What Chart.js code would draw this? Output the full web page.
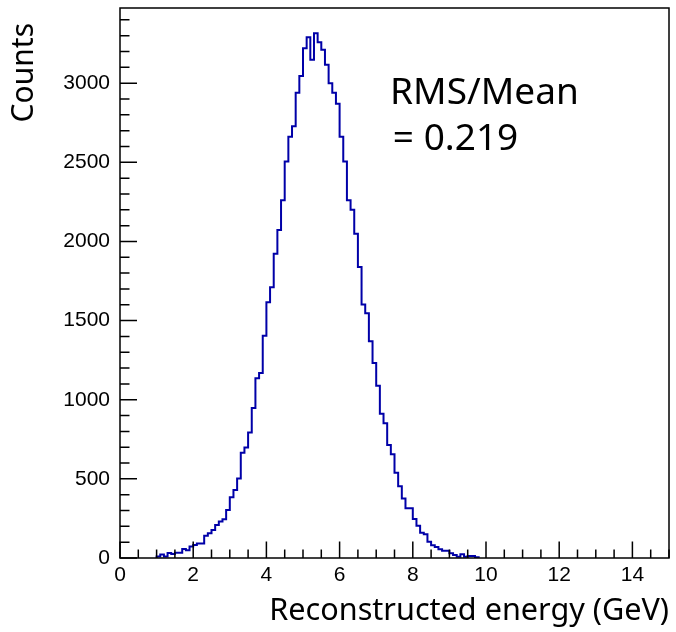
<!DOCTYPE html>
<html>
<head>
<meta charset="utf-8">
<script src="https://cdn.jsdelivr.net/npm/chart.js@4.4.0/dist/chart.umd.min.js"></script>
<style>
html, body { margin: 0; padding: 0; background: #ffffff; }
#wrap { width: 676px; height: 632px; position: relative; }
</style>
</head>
<body>
<div id="wrap"><canvas id="c" width="676" height="632"></canvas></div>
<script>
// ---- data (bin width 0.1 GeV) ----
const binLowEdges = [
  1.0, 1.1, 1.2, 1.3, 1.4, 1.5, 1.6, 1.7, 1.8, 1.9,
  2.0, 2.1, 2.2, 2.3, 2.4, 2.5, 2.6, 2.7, 2.8, 2.9,
  3.0, 3.1, 3.2, 3.3, 3.4, 3.5, 3.6, 3.7, 3.8, 3.9,
  4.0, 4.1, 4.2, 4.3, 4.4, 4.5, 4.6, 4.7, 4.8, 4.9,
  5.0, 5.1, 5.2, 5.3, 5.4, 5.5, 5.6, 5.7, 5.8, 5.9,
  6.0, 6.1, 6.2, 6.3, 6.4, 6.5, 6.6, 6.7, 6.8, 6.9,
  7.0, 7.1, 7.2, 7.3, 7.4, 7.5, 7.6, 7.7, 7.8, 7.9,
  8.0, 8.1, 8.2, 8.3, 8.4, 8.5, 8.6, 8.7, 8.8, 8.9,
  9.0, 9.1, 9.2, 9.3, 9.4, 9.5, 9.6, 9.7
];
const binWidth = 0.1;
const counts = [
  10, 22, 10, 32, 26, 33, 33, 57, 49, 72,
  82, 92, 92, 140, 156, 177, 209, 230, 245, 304,
  384, 430, 502, 665, 698, 793, 948, 1135, 1169, 1405,
  1616, 1711, 1922, 2072, 2260, 2505, 2661, 2728, 2939, 3045,
  3220, 3290, 3148, 3315, 3258, 3211, 3116, 3000, 2939, 2870,
  2661, 2505, 2260, 2201, 2049, 1838, 1601, 1547, 1369, 1232,
  1089, 912, 852, 714, 655, 538, 453, 376, 315, 315,
  247, 203, 160, 150, 103, 80, 70, 55, 46, 46,
  30, 19, 8, 23, 8, 13, 13, 5
];
const xTickLabels = [0, 2, 4, 6, 8, 10, 12, 14];
const yTickLabels = [0, 500, 1000, 1500, 2000, 2500, 3000];
const xRange = [0, 15];
const yRange = [0, 3475];
const xTitle = 'Reconstructed energy (GeV)';
const yTitle = 'Counts';
const annotationLines = ['RMS/Mean', '= 0.219'];

// ---- build step points (ROOT-style histogram outline) ----
const points = [{ x: binLowEdges[0], y: 0 }];
binLowEdges.forEach((e, i) => points.push({ x: e, y: counts[i] }));
points.push({ x: binLowEdges[binLowEdges.length - 1] + binWidth, y: 0 });

const frameTicks = {
  id: 'frameTicks',
  afterDatasetsDraw(chart) {
    const { ctx, chartArea: a, scales: { x, y } } = chart;
    ctx.save();
    ctx.strokeStyle = '#000';
    ctx.lineWidth = 1.5;
    ctx.beginPath();
    for (let v = xRange[0]; v <= xRange[1] + 1e-9; v += 0.5) {
      const px = x.getPixelForValue(v);
      const major = xTickLabels.includes(Math.round(v * 10) / 10);
      const len = major ? 16.5 : 8.5;
      ctx.moveTo(px, a.bottom);
      ctx.lineTo(px, a.bottom - len);
    }
    for (let v = yRange[0]; v <= yRange[1]; v += 100) {
      const py = y.getPixelForValue(v);
      const major = yTickLabels.includes(v);
      const len = major ? 17 : 9.5;
      ctx.moveTo(a.left, py);
      ctx.lineTo(a.left + len, py);
    }
    ctx.stroke();
    ctx.strokeRect(a.left, a.top, a.right - a.left, a.bottom - a.top);
    ctx.restore();
  },
  afterDraw(chart) {
    const { ctx, chartArea: a } = chart;
    const w = a.right - a.left, h = a.bottom - a.top;
    ctx.save();
    ctx.fillStyle = '#000';
    // y axis title, right-aligned toward the top like ROOT
    ctx.save();
    ctx.font = '30px "Noto Sans"';
    ctx.textAlign = 'right';
    ctx.textBaseline = 'alphabetic';
    ctx.translate(a.left - 87, a.top + 15);
    ctx.rotate(-Math.PI / 2);
    ctx.fillText(yTitle, 0, 0);
    ctx.restore();
    // annotation
    ctx.font = '37px "Noto Sans"';
    ctx.textAlign = 'left';
    ctx.textBaseline = 'alphabetic';
    ctx.fillText(annotationLines[0], a.left + 0.492 * w, a.top + 0.175 * h);
    ctx.fillText(annotationLines[1], a.left + 0.497 * w, a.top + 0.258 * h);
    ctx.restore();
  }
};

new Chart(document.getElementById('c'), {
  type: 'line',
  data: {
    datasets: [{
      label: 'Counts',
      data: points,
      stepped: 'before',
      borderColor: '#0000a8',
      borderWidth: 2,
      pointRadius: 0,
      fill: false,
      tension: 0
    }]
  },
  options: {
    responsive: false,
    animation: false,
    devicePixelRatio: 1,
    layout: { padding: { left: 0, right: 7, top: 8, bottom: 0 } },
    plugins: { legend: { display: false }, tooltip: { enabled: false } },
    scales: {
      x: {
        type: 'linear',
        min: xRange[0], max: xRange[1],
        grid: { display: false, drawTicks: false },
        border: { display: false },
        afterBuildTicks: s => { s.ticks = xTickLabels.map(v => ({ value: v })); },
        afterFit: s => { s.height = 74; s.paddingLeft = 0; s.paddingRight = 0; },
        ticks: {
          padding: 5,
          maxRotation: 0,
          autoSkip: false,
          color: '#000',
          font: { family: '"Liberation Sans", Arial, sans-serif', size: 21 },
          callback: v => String(v)
        },
        title: {
          display: true,
          text: xTitle,
          align: 'end',
          color: '#000',
          font: { family: '"Noto Sans", sans-serif', size: 30.6 },
          padding: { top: 0, bottom: 2 }
        }
      },
      y: {
        type: 'linear',
        min: yRange[0], max: yRange[1],
        grid: { display: false, drawTicks: false },
        border: { display: false },
        afterBuildTicks: s => { s.ticks = yTickLabels.map(v => ({ value: v })); },
        afterFit: s => { s.width = 120; s.paddingTop = 0; s.paddingBottom = 0; },
        ticks: {
          padding: 10,
          autoSkip: false,
          color: '#000',
          font: { family: '"Liberation Sans", Arial, sans-serif', size: 21 },
          callback: v => String(v)
        },
        title: { display: false }
      }
    }
  },
  plugins: [frameTicks]
});
</script>
</body>
</html>
